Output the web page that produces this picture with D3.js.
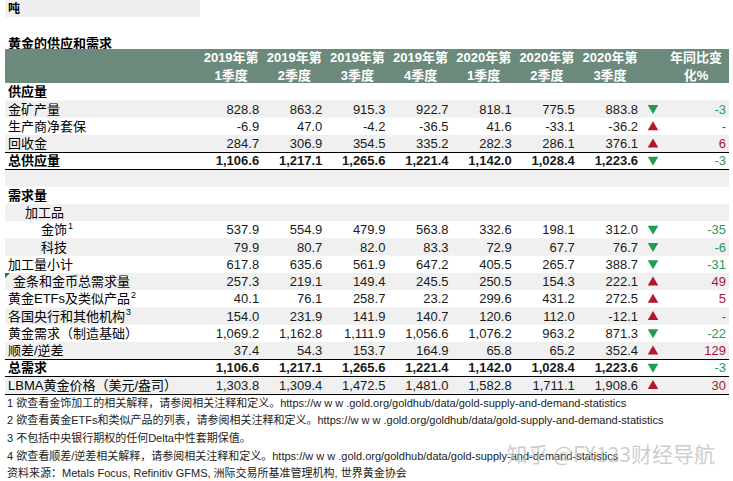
<!DOCTYPE html>
<html>
<head>
<meta charset="utf-8">
<script src="https://cdn.jsdelivr.net/npm/d3@7"></script>
<style>
  body { margin: 0; background: #fff; }
  text { font-family: "Liberation Sans", Arial, "Noto Sans CJK SC", sans-serif; }
</style>
</head>
<body>
<script>
// table data
var quarters = [["2019年第", "1季度"], ["2019年第", "2季度"], ["2019年第", "3季度"], ["2019年第", "4季度"],
                ["2020年第", "1季度"], ["2020年第", "2季度"], ["2020年第", "3季度"]];
var yoyHeader = ["年同比变", "化%"];

var rowLabels = ["金矿产量", "生产商净套保", "回收金", "总供应量", "", "需求量", "加工品", "金饰", "科技",
                 "加工量小计", "金条和金币总需求量", "黄金ETFs及类似产品", "各国央行和其他机构",
                 "黄金需求（制造基础）", "顺差/逆差", "总需求", "LBMA黄金价格（美元/盎司）"];
var rowNotes = [null, null, null, null, null, null, null, "1", null, null, null, "2", "3", null, null, null, null];

var rowValues = [
  [828.8, 863.2, 915.3, 922.7, 818.1, 775.5, 883.8],
  [-6.9, 47.0, -4.2, -36.5, 41.6, -33.1, -36.2],
  [284.7, 306.9, 354.5, 335.2, 282.3, 286.1, 376.1],
  [1106.6, 1217.1, 1265.6, 1221.4, 1142.0, 1028.4, 1223.6],
  null, null, null,
  [537.9, 554.9, 479.9, 563.8, 332.6, 198.1, 312.0],
  [79.9, 80.7, 82.0, 83.3, 72.9, 67.7, 76.7],
  [617.8, 635.6, 561.9, 647.2, 405.5, 265.7, 388.7],
  [257.3, 219.1, 149.4, 245.5, 250.5, 154.3, 222.1],
  [40.1, 76.1, 258.7, 23.2, 299.6, 431.2, 272.5],
  [154.0, 231.9, 141.9, 140.7, 120.6, 112.0, -12.1],
  [1069.2, 1162.8, 1111.9, 1056.6, 1076.2, 963.2, 871.3],
  [37.4, 54.3, 153.7, 164.9, 65.8, 65.2, 352.4],
  [1106.6, 1217.1, 1265.6, 1221.4, 1142.0, 1028.4, 1223.6],
  [1303.8, 1309.4, 1472.5, 1481.0, 1582.8, 1711.1, 1908.6]
];
var yoyValues = ["-3", "-", "6", "-3", null, null, null, "-35", "-6", "-31", "49", "5", "-", "-22", "129", "-3", "30"];
var yoyTrend = ["down", "up", "up", "down", null, null, null, "down", "down", "down", "up", "up", "up", "down", "up", "down", "up"];

var footnotes = [
  "1 欲查看金饰加工的相关解释，请参阅相关注释和定义。https://w w w .gold.org/goldhub/data/gold-supply-and-demand-statistics",
  "2 欲查看黄金ETFs和类似产品的列表，请参阅相关注释和定义。https://w w w .gold.org/goldhub/data/gold-supply-and-demand-statistics",
  "3 不包括中央银行期权的任何Delta中性套期保值。",
  "4 欲查看顺差/逆差相关解释，请参阅相关注释和定义。https://w w w .gold.org/goldhub/data/gold-supply-and-demand-statistics",
  "资料来源：Metals Focus, Refinitiv GFMS, 洲际交易所基准管理机构, 世界黄金协会"
];

// row looks (kept apart from the data)
var boldRows = [3, 5, 15];
var boldNumbers = [3, 15];
var labelX = {6: 25, 7: 41, 8: 41, 10: 13};
var lineBelow = [2, 3, 14, 15, 16];

var width = 733, height = 481;
var svg = d3.select("body").append("svg")
    .attr("width", width)
    .attr("height", height);

var fmt = d3.formatLocale({decimal: ".", thousands: ",", grouping: [3], currency: ["", ""], minus: "-"}).format(",.1f");

var x = d3.scaleBand().domain(d3.range(quarters.length)).range([196, 638]).padding(0);
var y = d3.scaleLinear().domain([0, 16]).range([109, 385]);
var rowH = y(1) - y(0);
var left = 5, right = 729;
var cjk = "\"Noto Sans CJK SC\", sans-serif";

// unit banner + title
svg.append("rect").attr("x", left).attr("y", 0).attr("width", 195).attr("height", 17).attr("fill", "#efefef");
svg.append("text").attr("x", 8).attr("y", 9).attr("dy", "0.35em")
    .style("font-family", cjk).style("font-weight", "bold").style("font-size", "12px").text("吨");
svg.append("text").attr("x", 8).attr("y", 43).attr("dy", "0.35em")
    .style("font-family", cjk).style("font-weight", "bold").style("font-size", "13px").text("黄金的供应和需求");

// header band
svg.append("rect").attr("x", left).attr("y", 49).attr("width", right - left).attr("height", 34).attr("fill", "#6c8a7b");
var head = svg.append("g").attr("fill", "#fff").style("font-weight", "bold").style("font-size", "13px");
quarters.forEach(function(q, i){
  var cx = x(i) + x.bandwidth() - 28;
  q.forEach(function(line, k){
    head.append("text").attr("x", cx).attr("y", 57.5 + k * 18).attr("dy", "0.35em")
        .attr("text-anchor", "middle").text(line);
  });
});
yoyHeader.forEach(function(line, k){
  head.append("text").attr("x", 696).attr("y", 57.5 + k * 18).attr("dy", "0.35em")
      .attr("text-anchor", "middle").text(line);
});

// zebra shading
svg.append("g").selectAll("rect")
  .data(rowLabels.map(function(d, i){ return i; }).filter(function(i){ return i % 2 === 0; }))
  .join("rect")
    .attr("x", left).attr("width", right - left)
    .attr("y", function(i){ return y(i) - rowH / 2; })
    .attr("height", rowH)
    .attr("fill", "#f0f0f0");

// section heading
svg.append("text").attr("x", 8).attr("y", y(-1)).attr("dy", "0.35em")
    .style("font-family", cjk).style("font-weight", "bold").style("font-size", "13px").text("供应量");

// row labels
var labels = svg.append("g").style("font-size", "13px");
rowLabels.forEach(function(lab, i){
  if (!lab) return;
  var t = labels.append("text")
      .attr("x", labelX[i] || 8)
      .attr("y", y(i)).attr("dy", "0.35em")
      .style("font-weight", boldRows.indexOf(i) >= 0 ? "bold" : "normal")
      .style("font-family", boldRows.indexOf(i) >= 0 ? cjk : null)
      .text(lab);
  if (rowNotes[i]) {
    t.append("tspan").attr("dx", 1).attr("dy", "-0.6em").style("font-size", "9px").text(rowNotes[i]);
  }
});

// comment marker on the bar & coin row
svg.append("path")
    .attr("d", "M" + left + "," + (y(10) - rowH / 2) + "l5,0l-5,5z")
    .attr("fill", "#1f7a3a");

// values
var nums = svg.append("g").style("font-size", "13px").attr("fill", "#1a1a1a");
rowValues.forEach(function(vals, i){
  if (!vals) return;
  vals.forEach(function(v, j){
    nums.append("text")
        .attr("x", x(j) + x.bandwidth())
        .attr("y", y(i)).attr("dy", "0.35em")
        .attr("text-anchor", "end")
        .style("font-weight", boldNumbers.indexOf(i) >= 0 ? "bold" : "normal")
        .text(fmt(v));
  });
});

// trend arrows and year-on-year change
var tri = d3.symbol().type(d3.symbolTriangle).size(48);
yoyTrend.forEach(function(t, i){
  if (!t) return;
  svg.append("path")
      .attr("d", tri())
      .attr("transform", "translate(653," + (y(i) + (t === "down" ? -1 : 1)) + ")" + (t === "down" ? " rotate(180)" : ""))
      .attr("fill", t === "down" ? "#1f9e4b" : "#b3172c");
  var v = yoyValues[i];
  svg.append("text")
      .attr("x", 726).attr("y", y(i)).attr("dy", "0.35em")
      .attr("text-anchor", "end")
      .style("font-size", "13px")
      .attr("fill", v === "-" ? "#555" : (v.charAt(0) === "-" ? "#2e9a50" : "#a8192e"))
      .text(v);
});

// rules
svg.append("g").selectAll("line")
  .data(lineBelow)
  .join("line")
    .attr("x1", left).attr("x2", right)
    .attr("y1", function(i){ return Math.round(y(i) + rowH / 2) + 0.5; })
    .attr("y2", function(i){ return Math.round(y(i) + rowH / 2) + 0.5; })
    .attr("stroke", "#000").attr("stroke-width", 1.2);

// footnotes
svg.append("g").style("font-size", "11px").attr("fill", "#222")
  .selectAll("text")
  .data(footnotes)
  .join("text")
    .attr("x", 7)
    .attr("y", function(d, i){ return 403 + i * 17.6; })
    .attr("dy", "0.35em")
    .text(function(d){ return d; });

// watermark
svg.append("text")
    .attr("x", 715).attr("y", 455).attr("dy", "0.35em")
    .attr("text-anchor", "end")
    .style("font-family", cjk)
    .style("font-size", "21px")
    .attr("fill", "#bdbdbd").attr("fill-opacity", 0.75)
    .text("知乎 @FX123财经导航");
</script>
</body>
</html>
